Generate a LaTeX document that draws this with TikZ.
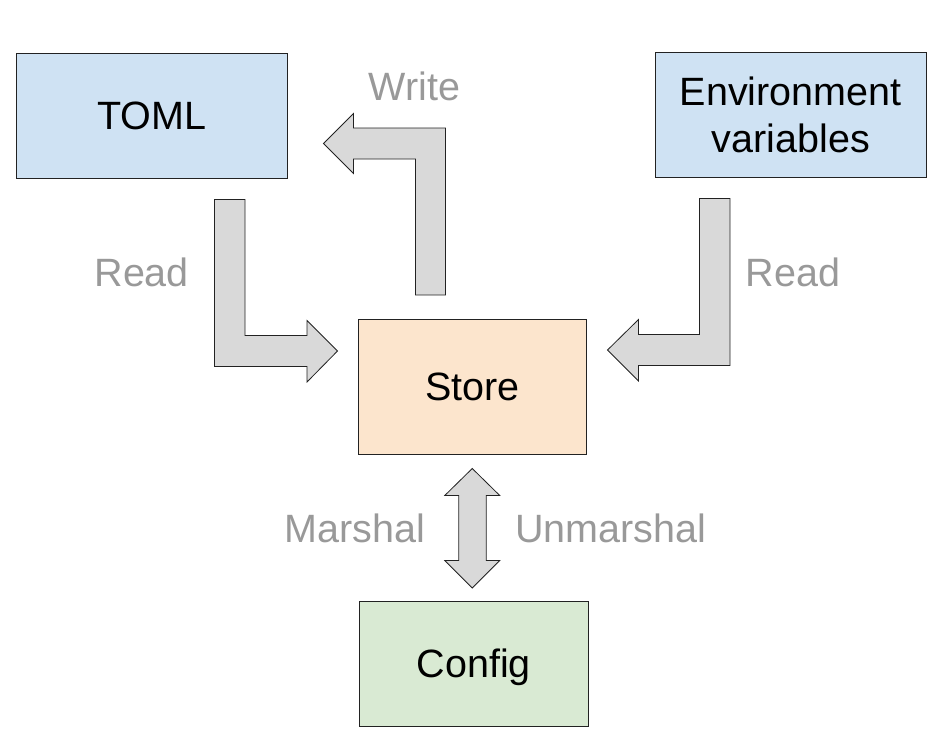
\documentclass[tikz,border=0pt]{standalone}
\usepackage{fontspec}
\setmainfont{Liberation Sans}
\usepackage{tikz}
\usetikzlibrary{arrows,positioning}
\usepackage{xcolor}
\definecolor{srcblue}{HTML}{CFE2F3}
\definecolor{storeorange}{HTML}{FCE5CD}
\definecolor{cfggreen}{HTML}{D9EAD3}
\definecolor{arrowgray}{HTML}{D9D9D9}
\definecolor{labelgray}{HTML}{999999}
\definecolor{edgegray}{HTML}{222222}

\begin{document}
\begin{tikzpicture}[x=1pt,y=-1pt,
                    font=\fontsize{39.5}{46.7}\selectfont]
  \tikzstyle{box}=[rectangle,draw=edgegray,line width=1pt,inner sep=0pt,text height=35pt,text depth=7pt]
  \tikzstyle{source}=[box,fill=srcblue,minimum width=271pt,minimum height=124.5pt]
  \tikzstyle{store}=[box,fill=storeorange,minimum width=227.5pt,minimum height=134.5pt]
  \tikzstyle{config}=[box,fill=cfggreen,minimum width=228.5pt,minimum height=124.5pt]
  \tikzstyle{flow}=[draw=edgegray,line width=0.8pt,fill=arrowgray,line join=miter]
  \tikzstyle{label}=[text=labelgray,inner sep=0pt,text height=35pt,text depth=7pt]

  \useasboundingbox (0,0) rectangle (948,740);

  \node[source]  (toml)   at (152,115.75)    {TOML};
  \node[source,text height=,text depth=,align=center]
                 (env)    at (790.75,114.75) {Environment\\variables};
  \node[store]   (store)  at (472.25,386.75) {Store};
  \node[config]  (config) at (473.75,663.75) {Config};

  % read from toml
  \draw[flow] ([xshift=62.5pt,yshift=-21pt]toml.south) -- ++(30.5,0) -- ++(0,136)
      -- ++(62,0) -- ++(0,-15) -- ++(30.5,30.5) -- ++(-30.5,31) -- ++(0,-15.5)
      -- ++(-92.5,0) -- cycle;
  % write to toml
  \draw[flow] ([xshift=-56.75pt,yshift=24pt]store.north) -- ++(30,0) -- ++(0,-167)
      -- ++(-92,0) -- ++(0,-14.5) -- ++(-30,30) -- ++(30,30) -- ++(0,-14.5)
      -- ++(62,0) -- cycle;
  % read from environment
  \draw[flow] ([xshift=-60.75pt,yshift=-21pt]env.south) -- ++(-30.5,0) -- ++(0,136)
      -- ++(-61,0) -- ++(0,-15) -- ++(-31,30.5) -- ++(31,31) -- ++(0,-15.5)
      -- ++(91.5,0) -- cycle;
  % store <-> config
  \draw[flow] ([yshift=-14pt]store.south) -- ++(27.5,27) -- ++(-13.5,0) -- ++(0,65)
      -- ++(13.5,0) -- ++(-27.5,27.5) -- ++(-27.5,-27.5) -- ++(14,0) -- ++(0,-65)
      -- ++(-14,0) -- cycle;

  \node[label] (write)     at (414.5,86)  {Write};
  \node[label] (readtoml)  at (141.7,272.7) {Read};
  \node[label] (readenv)   at (793,272.7) {Read};
  \node[label] (marshal)   at (354.7,528.7) {Marshal};
  \node[label] (unmarshal) at (610.9,528.7) {Unmarshal};
\end{tikzpicture}
\end{document}
